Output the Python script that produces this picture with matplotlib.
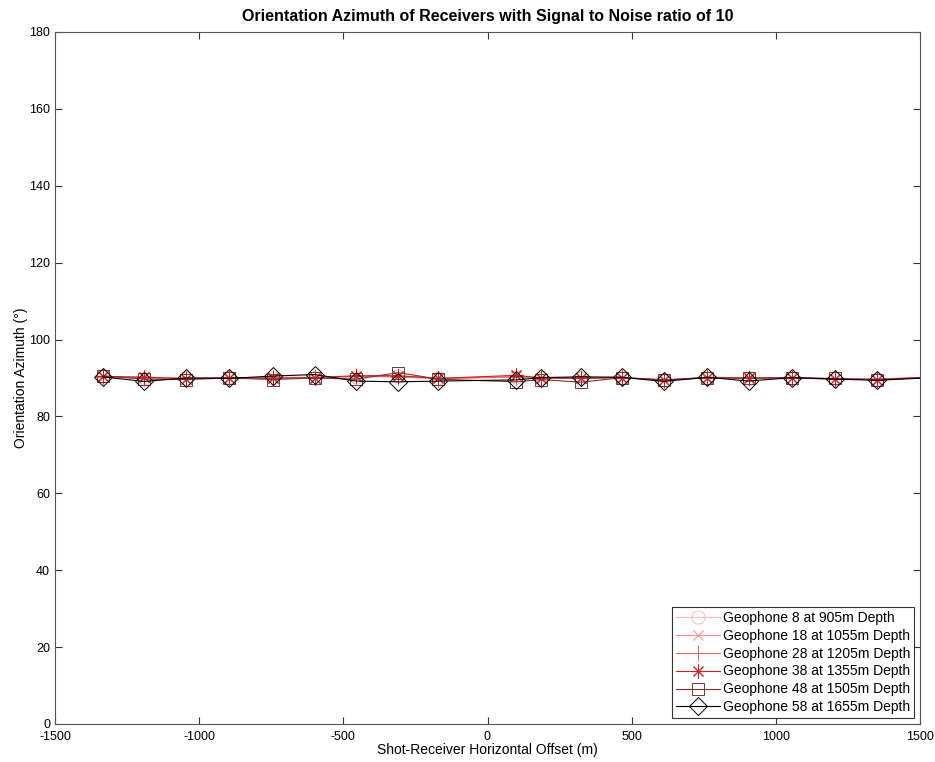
import matplotlib
matplotlib.use('Agg')
import matplotlib.pyplot as plt

plt.rcParams['font.family'] = ['Liberation Sans', 'DejaVu Sans']
plt.rcParams['axes.unicode_minus'] = False

# shot-receiver offsets (m), last one lies outside the axis
offsets = [-1335, -1190, -1045, -895, -745, -600, -455, -310, -170,
           100, 185, 325, 465, 612, 760, 907, 1055, 1205, 1352, 1650]

az_g8 = [90.5, 90.1, 89.9, 90.2, 90.0, 90.1, 90.3, 90.4, 89.9,
         90.2, 90.0, 89.9, 90.1, 89.6, 90.1, 90.0, 90.1, 89.8, 89.8, 90.4]
az_g18 = [90.3, 90.3, 89.8, 90.0, 90.2, 90.0, 90.5, 90.5, 90.0,
          90.4, 89.8, 90.1, 90.0, 89.5, 90.0, 90.0, 89.9, 89.8, 89.6, 90.5]
az_g28 = [90.2, 90.0, 90.0, 89.9, 90.1, 90.2, 90.4, 90.3, 89.8,
          90.3, 90.1, 90.0, 90.2, 89.4, 90.2, 90.1, 90.0, 89.7, 89.7, 90.6]
az_g38 = [90.4, 90.2, 89.8, 90.1, 89.9, 90.1, 90.6, 90.6, 89.9,
          90.7, 90.0, 89.9, 90.1, 89.5, 90.1, 89.9, 90.1, 89.8, 89.6, 90.5]
az_g48 = [90.6, 89.7, 89.6, 90.0, 89.6, 90.0, 89.7, 91.4, 89.7,
          89.0, 89.6, 88.9, 90.1, 89.5, 90.0, 90.0, 90.0, 89.9, 89.5, 90.6]
az_g58 = [90.3, 89.1, 90.0, 89.9, 90.5, 90.9, 89.2, 89.0, 89.2,
          89.5, 90.1, 90.3, 90.2, 89.1, 90.2, 89.2, 90.1, 89.7, 89.4, 90.5]

labels = ['Geophone 8 at 905m Depth', 'Geophone 18 at 1055m Depth',
          'Geophone 28 at 1205m Depth', 'Geophone 38 at 1355m Depth',
          'Geophone 48 at 1505m Depth', 'Geophone 58 at 1655m Depth']

series = [az_g8, az_g18, az_g28, az_g38, az_g48, az_g58]
colors = ['#ffb8b8', '#ff8c8c', '#ee6a6a', '#cc2222', '#7a3535', '#000000']
markers = ['o', 'x', '+', (8, 2, 0), 's', 'D']
msizes = [9.5, 7, 11, 10, 9, 9]

fig = plt.figure(figsize=(9.35, 7.62), dpi=100)
ax = fig.add_axes([55 / 935, 38 / 762, 865 / 935, 692 / 762])

for y, c, m, ms, lab in zip(series, colors, markers, msizes, labels):
    ax.plot(offsets, y, color=c, marker=m, markersize=ms, markerfacecolor='none',
            markeredgecolor=c, markeredgewidth=0.7, linewidth=0.8, label=lab)

ax.set_xlim(-1500, 1500)
ax.set_ylim(0, 180)
ax.set_xticks(range(-1500, 1501, 500))
ax.set_yticks(range(0, 181, 20))
ax.tick_params(direction='in', length=5, width=0.8, top=True, right=True,
               labelsize=9, colors='#333333', labelcolor='black')
ax.tick_params(axis='x', pad=5)
for s in ax.spines.values():
    s.set_color('#555555')
    s.set_linewidth(0.8)

ax.set_title('Orientation Azimuth of Receivers with Signal to Noise ratio of 10',
             fontsize=11.5, fontweight='bold', pad=8)
ax.set_xlabel('Shot-Receiver Horizontal Offset (m)', fontsize=10, labelpad=0)
ax.set_ylabel('Orientation Azimuth (\u00b0)', fontsize=10, labelpad=1)

leg = ax.legend(loc='lower right', fontsize=10, fancybox=False, framealpha=1,
                edgecolor='#333333', borderpad=0.3, labelspacing=0.28,
                handlelength=3.2, handletextpad=0.2, borderaxespad=0.4)
leg.get_frame().set_linewidth(0.8)

fig.savefig('out.png', dpi=100)
